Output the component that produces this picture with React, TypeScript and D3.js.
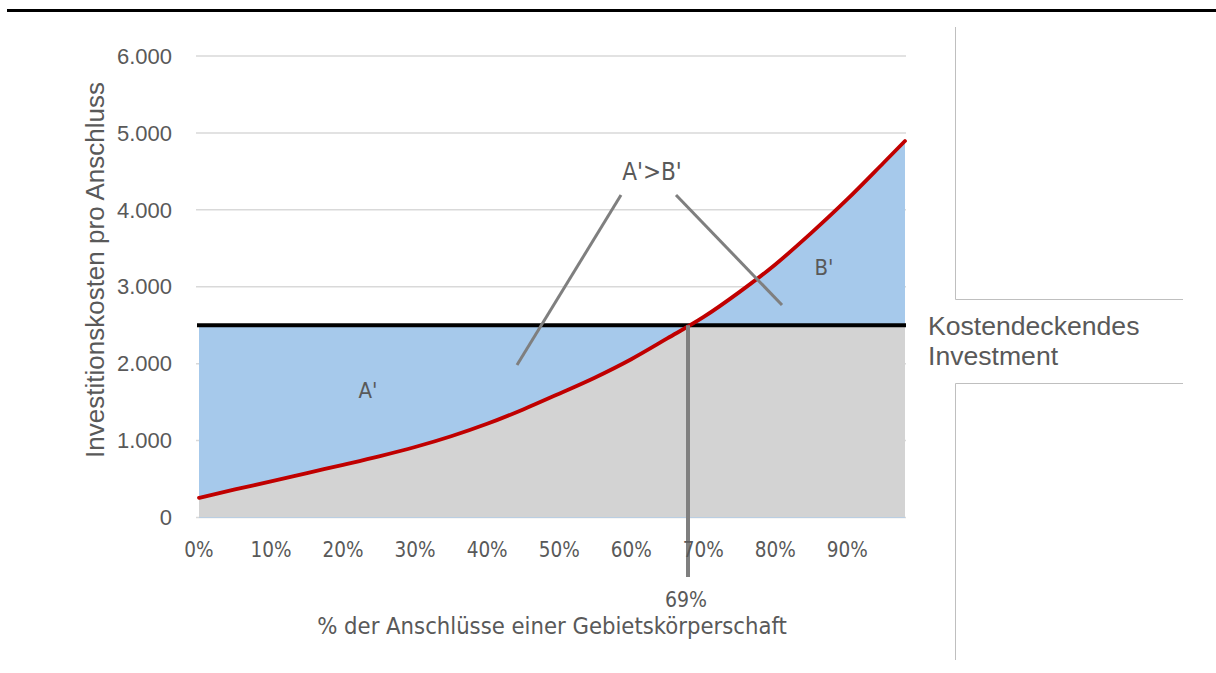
import React from "react";
import * as d3 from "d3";

// ---- data ----
const pctValues = [0, 5, 10, 15, 20, 25, 30, 35, 40, 45, 50, 55, 60, 65, 70, 75, 80, 85, 90, 95, 98];
const costValues = [255, 365, 469, 578, 685, 795, 916, 1056, 1218, 1405, 1610, 1821, 2058, 2328, 2604, 2930, 3290, 3700, 4138, 4609, 4895];
const xTickValues = [0, 10, 20, 30, 40, 50, 60, 70, 80, 90];
const yTickValues = [0, 1000, 2000, 3000, 4000, 5000, 6000];
const breakEven = 2500;
const breakEvenPct = 69;
const breakEvenLabel = "Kostendeckendes";
const breakEvenLabel2 = "Investment";
const yTitle = "Investitionskosten pro Anschluss";
const xTitle = "% der Anschlüsse einer Gebietskörperschaft";

const W = 1216;
const H = 673;
const SANS = "'Liberation Sans', Arial, sans-serif";
const NARROW = "'Liberation Sans Narrow', 'Arial Narrow', 'DejaVu Sans Condensed', sans-serif";
const TXT = "#595959";

export default function App() {
  const x = d3.scaleLinear().domain([0, 98]).range([199, 905]);
  const y = d3.scaleLinear().domain([0, 6000]).range([517.5, 56]);
  const pts = pctValues.map((p, i) => ({ p, v: costValues[i] }));
  const fmt = (v: number) => (v === 0 ? "0" : d3.format(",")(v).replace(/,/g, "."));

  const line = d3.line<{ p: number; v: number }>().x(d => x(d.p)).y(d => y(d.v)).curve(d3.curveMonotoneX);
  const area = d3.area<{ p: number; v: number }>().x(d => x(d.p)).y0(y(0)).y1(d => y(d.v)).curve(d3.curveMonotoneX);

  const gx0 = 196, gx1 = 906;
  const yBE = y(breakEven);
  const markerX = 688;

  return (
    <svg width={W} height={H} style={{ position: "absolute", left: 0, top: 0, background: "#fff" }}>
      <defs>
        <clipPath id="below">
          <rect x={0} y={yBE} width={W} height={y(0) - yBE} />
        </clipPath>
      </defs>
      {/* top rule */}
      <line x1={7} x2={W} y1={10.5} y2={10.5} stroke="#000" strokeWidth={3} />

      {/* gridlines */}
      {yTickValues.map(t => (
        <line key={t} x1={gx0} x2={gx1} y1={y(t)} y2={y(t)} stroke="#d9d9d9" strokeWidth={1.5} />
      ))}

      {/* blue areas */}
      <rect x={x(0)} y={yBE} width={x(98) - x(0)} height={y(0) - yBE} fill="#a6c9eb" />
      <path d={area(pts) || ""} fill="#a6c9eb" />
      {/* gray under curve, capped at break-even */}
      <path d={area(pts) || ""} fill="#d3d3d3" clipPath="url(#below)" />

      {/* break-even line */}
      <line x1={197} x2={906} y1={yBE} y2={yBE} stroke="#000" strokeWidth={4} />

      {/* red cost curve */}
      <path d={line(pts) || ""} fill="none" stroke="#c00000" strokeWidth={3.8} strokeLinecap="round" />

      {/* 69% marker */}
      <line x1={markerX} x2={markerX} y1={yBE} y2={577} stroke="#7f7f7f" strokeWidth={4} />

      {/* annotation leaders */}
      <line x1={621} y1={195} x2={517} y2={365} stroke="#7f7f7f" strokeWidth={3} />
      <line x1={676} y1={195} x2={782} y2={305} stroke="#7f7f7f" strokeWidth={3} />

      {/* y tick labels */}
      {yTickValues.map(t => (
        <text key={t} x={172} y={y(t)} dy="0.35em" textAnchor="end" fontFamily={SANS} fontSize={22} fill={TXT}>
          {fmt(t)}
        </text>
      ))}
      {/* x tick labels */}
      {xTickValues.map(t => (
        <text key={t} x={x(t)} y={557} textAnchor="middle" fontFamily={NARROW} fontSize={20.5} fill={TXT}>
          {t + "%"}
        </text>
      ))}

      {/* titles */}
      <text transform={`translate(104,270) rotate(-90)`} textAnchor="middle" fontFamily={SANS} fontSize={26} fill={TXT}>
        {yTitle}
      </text>
      <text x={552} y={634} textAnchor="middle" fontFamily={NARROW} fontSize={23.6} fill={TXT}>
        {xTitle}
      </text>
      <text x={686} y={607} textAnchor="middle" fontFamily={NARROW} fontSize={21} fill={TXT}>
        {breakEvenPct + "%"}
      </text>

      {/* annotation texts */}
      <text x={652} y={180} textAnchor="middle" fontFamily={NARROW} fontSize={24} fill={TXT}>A'&gt;B'</text>
      <text x={368} y={398} textAnchor="middle" fontFamily={NARROW} fontSize={22} fill={TXT}>A'</text>
      <text x={824} y={275} textAnchor="middle" fontFamily={NARROW} fontSize={22} fill={TXT}>B'</text>

      {/* right side */}
      <text x={928} y={335} fontFamily={SANS} fontSize={26.6} fill={TXT}>{breakEvenLabel}</text>
      <text x={928} y={365} fontFamily={SANS} fontSize={26.6} fill={TXT}>{breakEvenLabel2}</text>
      <polyline points="955.5,27 955.5,299.5 1183,299.5" fill="none" stroke="#bfbfbf" strokeWidth={1} />
      <polyline points="1183,383.5 955.5,383.5 955.5,660" fill="none" stroke="#bfbfbf" strokeWidth={1} />
    </svg>
  );
}
